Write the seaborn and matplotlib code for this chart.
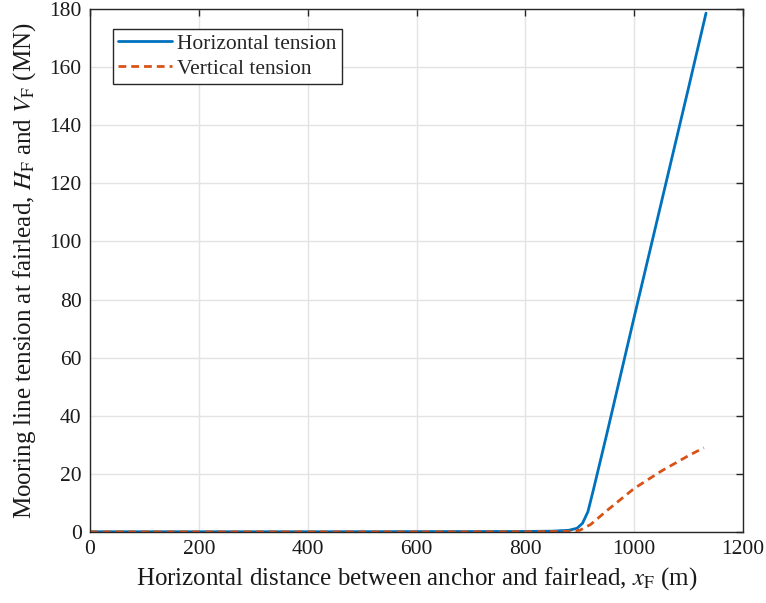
import matplotlib
matplotlib.use("Agg")
import matplotlib.pyplot as plt
import seaborn as sns
import pandas as pd

# Data
x_h = [0, 200, 400, 600, 800, 850, 880, 895, 905, 915, 925, 950, 1000, 1050, 1100, 1132]
h_tension = [0.1, 0.1, 0.1, 0.15, 0.2, 0.3, 0.6, 1.3, 3.0, 7.0, 14.5, 34.0, 74.0, 113.5, 153.0, 178.6]
x_v = [0, 200, 400, 600, 800, 850, 880, 900, 920, 950, 1000, 1050, 1100, 1128]
v_tension = [0.05, 0.05, 0.05, 0.05, 0.1, 0.15, 0.25, 0.6, 2.6, 7.4, 15.0, 21.0, 26.3, 29.0]

xticks = [0, 200, 400, 600, 800, 1000, 1200]
yticks = [0, 20, 40, 60, 80, 100, 120, 140, 160, 180]

sns.set_theme(style="whitegrid")
plt.rcParams["font.family"] = ["Liberation Serif", "DejaVu Serif"]
plt.rcParams["mathtext.fontset"] = "stix"

fig = plt.figure(figsize=(7.66, 6.03), dpi=100)
ax = fig.add_axes([0.1175, 0.1177, 0.8525, 0.8673])

dfh = pd.DataFrame({"x": x_h, "y": h_tension})
dfv = pd.DataFrame({"x": x_v, "y": v_tension})
sns.lineplot(data=dfh, x="x", y="y", ax=ax, color="#0072BD", lw=2.0,
             label="Horizontal tension")
sns.lineplot(data=dfv, x="x", y="y", ax=ax, color="#D95319", lw=2.0,
             label="Vertical tension")
ax.lines[1].set_dashes((2.8, 1.8))

ax.set_xlim(0, 1200)
ax.set_ylim(0, 180)
ax.set_xticks(xticks)
ax.set_yticks(yticks)
ax.tick_params(direction="in", length=5, width=1.0, colors="#262626",
               labelsize=15.5, top=True, right=True, labelcolor="#1a1a1a",
               pad=6)
ax.grid(True, color="#e3e3e3", lw=1.0)
for s in ax.spines.values():
    s.set_color("#262626")
    s.set_linewidth(1.0)
ax.set_facecolor("white")

ax.set_xlabel(r"Horizontal distance between anchor and fairlead, $x_{\mathrm{F}}$ (m)",
              fontsize=18, color="#1a1a1a", labelpad=4)
ax.set_ylabel(r"Mooring line tension at fairlead, $H_{\mathrm{F}}$ and $V_{\mathrm{F}}$ (MN)",
              fontsize=18, color="#1a1a1a", labelpad=8)

leg = ax.legend(loc="upper left", bbox_to_anchor=(0.025, 0.975), fontsize=15.5,
                frameon=True, fancybox=False, edgecolor="#262626",
                handlelength=2.5, handletextpad=0.25, borderpad=0.25,
                labelspacing=0.22, borderaxespad=0.3)
leg.get_frame().set_linewidth(1.0)
leg.get_frame().set_alpha(1)

fig.savefig("out.png", dpi=100, facecolor="white")
